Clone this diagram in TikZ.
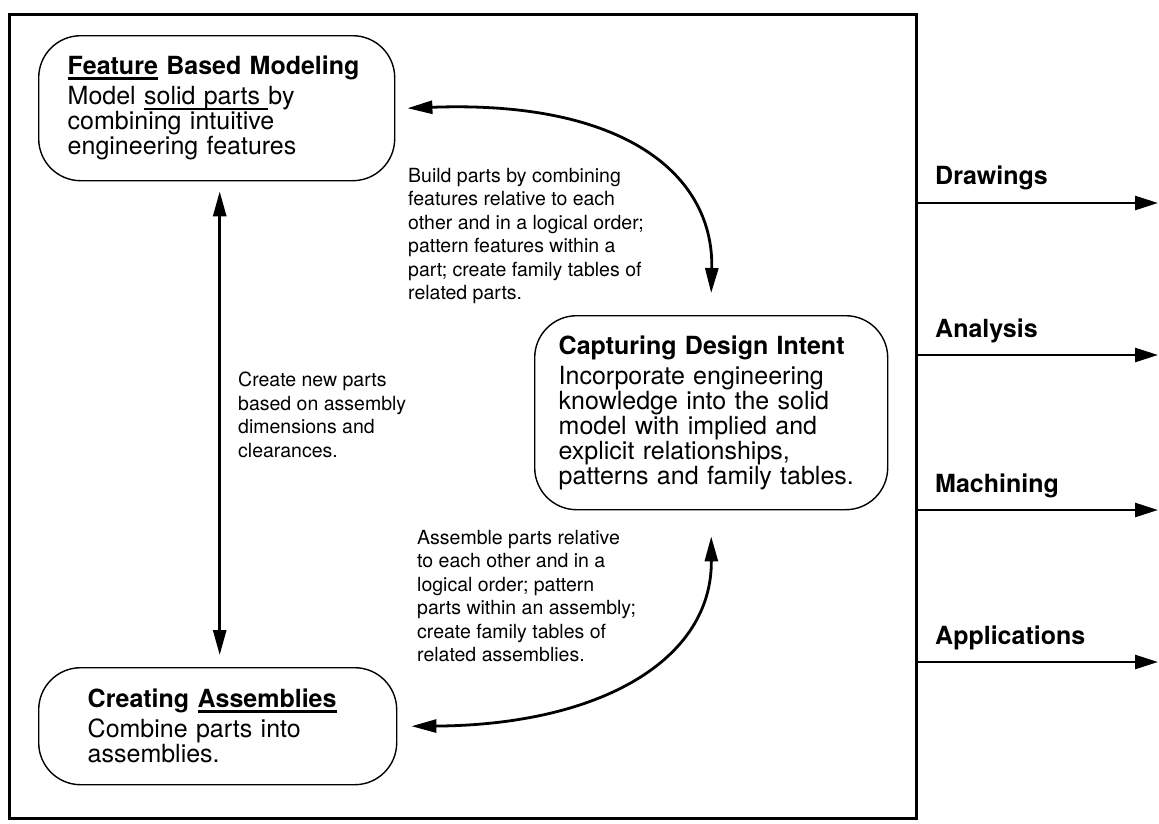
\documentclass[tikz,border=0pt]{standalone}
\usepackage{fontspec}
\setmainfont{TeX Gyre Heros}
\usetikzlibrary{arrows.meta}
\newcommand\boxfont{\fontsize{25}{25}\selectfont\hyphenpenalty=10000\relax}
\newcommand\notefont{\fontsize{19.5}{23.5}\selectfont}
\newcommand\labfont{\fontsize{25}{25}\selectfont\bfseries}
\newcommand\ulbox[3]{\setbox0=\hbox{#3}\rlap{\rule[#1]{\wd0}{#2}}\box0\relax}
\begin{document}
\begin{tikzpicture}[x=1pt,y=-1pt,
  box/.style={draw, line width=1.4pt, rounded corners=42pt, align=left, inner ysep=0pt, anchor=north west, font=\boxfont},
  flow/.style={line width=2.6pt, -{Triangle[length=23pt,width=14pt]}},
  both/.style={line width=2.8pt, {Triangle[length=25pt,width=13pt]}-{Triangle[length=25pt,width=13pt]}},
  note/.style={anchor=north west, inner sep=0pt, align=left, font=\notefont},
  outlab/.style={anchor=base west, inner sep=0pt, font=\labfont}]
\useasboundingbox (0,0) rectangle (1159,823);
\fill[white] (0,0) rectangle (1159,823);

\node[draw, line width=2.5pt, minimum width=907pt, minimum height=804pt, anchor=north west, inner sep=0pt] (frame) at (8,13) {};

\node[box, text width=298pt, inner xsep=29pt, minimum height=145pt] (fbm) at (38,35)
 {\textbf{\ulbox{-5pt}{3pt}{Feature} Based Modeling}\\[5pt]
  Model \ulbox{-5pt}{1.8pt}{solid parts\ }by\\
  combining intuitive\\
  engineering features};

\node[box, text width=305pt, inner xsep=24pt, minimum height=194pt] (cdi) at (534,315)
 {\textbf{Capturing Design Intent}\\[5pt]
  Incorporate engineering\\
  knowledge into the solid\\
  model with implied and\\
  explicit relationships,\\
  patterns and family tables.};

\node[box, text width=260pt, inner xsep=49pt, minimum height=117pt] (cas) at (38,667)
 {\textbf{Creating \ulbox{-5pt}{3pt}{Assemblies}}\\[5pt]
  Combine parts into\\
  assemblies.};

\node[note] (t1) at (408,168) {Build parts by combining\\features relative to each\\other and in a logical order;\\pattern features within a\\part; create family tables of\\related parts.};
\node[note] (t2) at (238,372) {Create new parts\\based on assembly\\dimensions and\\clearances.};
\node[note] (t3) at (417,530) {Assemble parts relative\\to each other and in a\\logical order; pattern\\parts within an assembly;\\create family tables of\\related assemblies.};

\draw[both] ([shift={(3,10)}]fbm.south) -- ([shift={(2,-12)}]cas.north);
\draw[both] ([xshift=12pt]fbm.east) .. controls (625,100) and (714,175) .. ([yshift=22pt]cdi.north);
\draw[both] ([yshift=-26pt]cdi.south) .. controls (712,660) and (600,725) .. ([xshift=14pt]cas.east);

\coordinate (e1) at (1158,203);
\coordinate (e2) at (1158,355);
\coordinate (e3) at (1158,510);
\coordinate (e4) at (1158,662);
\draw[flow] (e1 -| frame.east) -- (e1);
\draw[flow] (e2 -| frame.east) -- (e2);
\draw[flow] (e3 -| frame.east) -- (e3);
\draw[flow] (e4 -| frame.east) -- (e4);
\node[outlab] (l1) at (935,184) {Drawings};
\node[outlab] (l2) at (935,337) {Analysis};
\node[outlab] (l3) at (935,492) {Machining};
\node[outlab] (l4) at (935,644) {Applications};
\end{tikzpicture}
\end{document}
